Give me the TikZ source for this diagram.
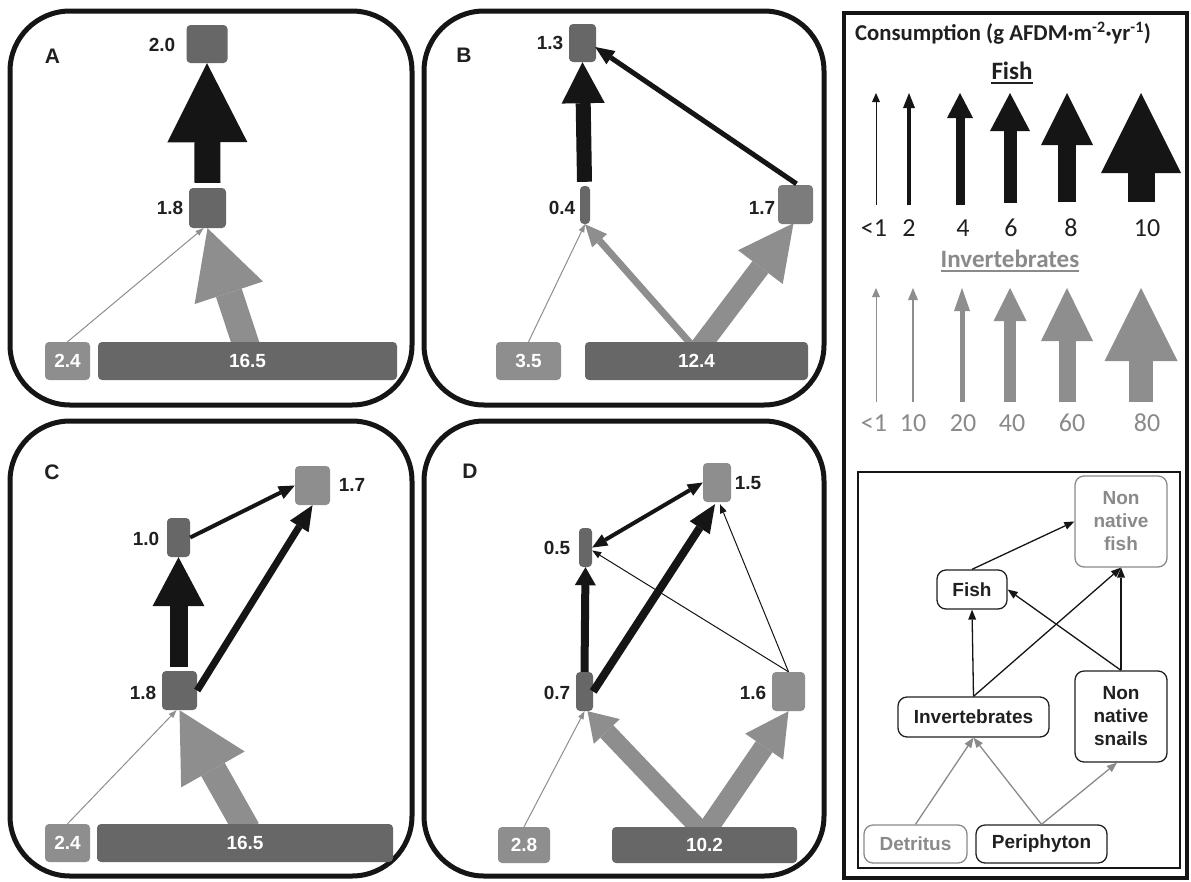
\documentclass[tikz,border=0pt]{standalone}
\usepackage{fontspec}
\setmainfont{Liberation Sans}
\newfontfamily\calfont{Carlito}
\usetikzlibrary{arrows.meta,calc}
\pgfdeclarelayer{bg}
\pgfsetlayers{bg,main}
\definecolor{colDk}{HTML}{676767}
\definecolor{colMd}{HTML}{7C7C7C}
\definecolor{colLt}{HTML}{8E8E8E}
\definecolor{colBk}{HTML}{151515}
\definecolor{colTx}{HTML}{202020}
\definecolor{colLg}{HTML}{8A8A8A}
\begin{document}
\begin{tikzpicture}[x=1pt,y=-1pt,
  frame/.style={draw=colBk,line width=5pt,rounded corners=60pt},
  dkbox/.style={fill=colDk,rounded corners=4pt,inner sep=0pt,text=white,font=\fontsize{19}{22}\selectfont\bfseries},
  mdbox/.style={dkbox,fill=colMd},
  ltbox/.style={fill=colLt,rounded corners=4pt,inner sep=0pt,text=white,font=\fontsize{19}{22}\selectfont\bfseries},
  num/.style={font=\fontsize{19}{22}\selectfont\bfseries,text=colTx,inner sep=0pt},
  plab/.style={font=\fontsize{21}{24}\selectfont\bfseries,text=colTx,inner sep=0pt},
  fa/.style n args={3}{draw=colBk,line width=#1,-{Triangle[width=#2,length=#3,line width=0pt]}},
  fb/.style n args={3}{draw=colBk,line width=#1,{Triangle[width=#2,length=#3,line width=0pt]}-{Triangle[width=#2,length=#3,line width=0pt]}},
  ia/.style n args={3}{draw=colLt,line width=#1,-{Triangle[width=#2,length=#3,line width=0pt]}},
  calnum/.style={font=\fontsize{26}{30}\selectfont\calfont,text=colTx,inner sep=0pt},
  calinv/.style={font=\fontsize{26}{30}\selectfont\calfont,text=colLg,inner sep=0pt},
  lbox/.style={draw=colTx,line width=1.3pt,rounded corners=9pt,fill=white,inner sep=0pt,align=center,text=colTx,font=\fontsize{19}{23}\selectfont\bfseries},
  lboxg/.style={lbox,draw=colLg,text=colLg},
  lka/.style={draw=colBk,line width=1.3pt,-{Triangle[width=8pt,length=10pt,line width=0pt]}},
  lkg/.style={draw=colLg,line width=1.3pt,-{Triangle[width=8pt,length=10pt,line width=0pt]}}
]
\useasboundingbox (0,0) rectangle (1191,881);
\begin{pgfonlayer}{bg}
\fill[white] (0,0) rectangle (1191,881);
\end{pgfonlayer}

% ---------- frames
\draw[frame] (10,11) rectangle (412,405);
\draw[frame] (424,11) rectangle (824,405);
\draw[frame] (10,421) rectangle (412,876);
\draw[frame] (424,421) rectangle (824,876);
\draw[draw=colBk,line width=4pt] (844,13) rectangle (1187,878);

% ---------- Panel A
\node[plab] (LA) at (52.5,56) {A};
\node[dkbox,minimum width=41pt,minimum height=38pt] (A20) at (207,44) {};
\node[dkbox,minimum width=37pt,minimum height=40pt] (A18) at (207.5,208) {};
\node[ltbox,minimum width=45pt,minimum height=38pt] (A24) at (67.5,361) {2.4};
\node[dkbox,minimum width=299pt,minimum height=38pt] (A165) at (247.5,361) {16.5};
\node[num] (lA20) at (162,45) {2.0};
\node[num] (lA18) at (170,208) {1.8};
\draw[fa={26pt}{80pt}{79pt}] ($(A18.north)+(0,-5)$) -- (A20.south);
\begin{pgfonlayer}{bg}
\draw[ia={27pt}{72pt}{68pt}] ($(A165.north)+(-0.5,6)$) -- (A18.south);
\draw[ia={1pt}{6pt}{8pt}] (A24.north) -- ($(A18.south)+(-4,0)$);
\end{pgfonlayer}

% ---------- Panel B
\node[plab] (LB) at (464,55) {B};
\node[dkbox,minimum width=27pt,minimum height=38pt] (B13) at (582.5,43) {};
\node[dkbox,minimum width=10pt,minimum height=38pt] (B04) at (585,205) {};
\node[mdbox,minimum width=35pt,minimum height=39pt] (B17) at (795.5,204.5) {};
\node[ltbox,minimum width=65pt,minimum height=38pt] (B35) at (528.5,361) {3.5};
\node[dkbox,minimum width=223pt,minimum height=38pt] (B124) at (696.5,361) {12.4};
\node[num] (lB13) at (550,43) {1.3};
\node[num] (lB04) at (562,208) {0.4};
\node[num] (lB17) at (762,208) {1.7};
\draw[fa={15pt}{43pt}{41pt}] ($(B04.north)+(-0.5,-4)$) -- (B13.south);
\draw[fa={5pt}{16pt}{19pt}] ($(B17.north)+(1,-1)$) -- ($(B13.east)+(-1,4)$);
\begin{pgfonlayer}{bg}
\draw[ia={1pt}{6pt}{8pt}] (B35.north) -- (B04.south);
\draw[ia={7pt}{20pt}{22pt}] ($(B124.north)+(-4,4)$) -- (B04.south);
\draw[ia={20pt}{56pt}{55pt}] ($(B124.north)+(3,6)$) -- ($(B17.south)+(-2,-1)$);
\end{pgfonlayer}

% ---------- Panel C
\node[plab] (LC) at (52,472) {C};
\node[ltbox,minimum width=35pt,minimum height=39pt] (C17) at (312.5,485.5) {};
\node[dkbox,minimum width=23pt,minimum height=39pt] (C10) at (178.5,537.5) {};
\node[dkbox,minimum width=35pt,minimum height=39pt] (C18) at (179.5,690.5) {};
\node[ltbox,minimum width=45pt,minimum height=38pt] (C24) at (67.5,843) {2.4};
\node[dkbox,minimum width=296pt,minimum height=38pt] (C165) at (245,843) {16.5};
\node[num] (lC17) at (352,485) {1.7};
\node[num] (lC10) at (146,539) {1.0};
\node[num] (lC18) at (143,693) {1.8};
\draw[fa={18pt}{52pt}{49pt}] ($(C18.north)+(-1,-4)$) -- (C10.south);
\draw[fa={4pt}{14pt}{16pt}] (C10.east) -- (C17.west);
\draw[fa={7pt}{22pt}{25pt}] (C18.east) -- (C17.south);
\begin{pgfonlayer}{bg}
\draw[ia={1pt}{6pt}{8pt}] (C24.north) -- ($(C18.south)+(-3,0)$);
\draw[ia={27pt}{73pt}{68pt}] ($(C165.north)+(2,6)$) -- (C18.south);
\end{pgfonlayer}

% ---------- Panel D
\node[plab] (LD) at (470,471) {D};
\node[ltbox,minimum width=28pt,minimum height=39pt] (D15) at (717,482.5) {};
\node[dkbox,minimum width=13pt,minimum height=39pt] (D05) at (585.5,547.5) {};
\node[dkbox,minimum width=17pt,minimum height=39pt] (D07) at (584.5,691.5) {};
\node[ltbox,minimum width=33pt,minimum height=39pt] (D16) at (788.5,691.5) {};
\node[ltbox,minimum width=52pt,minimum height=36pt] (D28) at (524,845) {2.8};
\node[dkbox,minimum width=185pt,minimum height=36pt] (D102) at (704.5,845) {10.2};
\node[num] (lD15) at (748,483) {1.5};
\node[num] (lD05) at (557,548) {0.5};
\node[num] (lD07) at (557,693) {0.7};
\node[num] (lD16) at (753,693) {1.6};
\draw[fa={8pt}{21pt}{18pt}] (D07.north) -- (D05.south);
\draw[fb={4pt}{13pt}{15pt}] (D05.east) -- (D15.west);
\draw[fa={8pt}{24pt}{28pt}] (D07.east) -- ($(D15.south)+(-2,2)$);
\draw[fa={1pt}{7pt}{9pt}] (D16.north) -- ($(D05.east)+(0,3)$);
\draw[fa={1pt}{7pt}{9pt}] (D16.north) -- ($(D15.south)+(3,2)$);
\begin{pgfonlayer}{bg}
\draw[ia={1pt}{6pt}{8pt}] (D28.north) -- (D07.south);
\draw[ia={18pt}{36pt}{28pt}] ($(D102.north)+(-3,4)$) -- ($(D07.south)+(3,0)$);
\draw[ia={20pt}{46pt}{43pt}] ($(D102.north)+(2,4)$) -- (D16.south);
\end{pgfonlayer}

% ---------- Legend top
\node[anchor=west,inner sep=0pt,font=\fontsize{22.7}{26}\selectfont\calfont\bfseries,text=colTx] (ttl) at (855,33) {Consumption (g AFDM·m\textsuperscript{-2}·yr\textsuperscript{-1})};
\node[inner sep=0pt,font=\fontsize{25}{30}\selectfont\calfont\bfseries,text=colTx,anchor=base] (hFish) at (1012,79) {Fish};
\draw[colTx,line width=1.6pt] ($(hFish.base west)+(0,4)$) -- ($(hFish.base east)+(0,4)$);
\node[inner sep=0pt,font=\fontsize{25}{30}\selectfont\calfont\bfseries,text=colLg,anchor=base] (hInv) at (1010,267) {Invertebrates};
\draw[colLg,line width=1.6pt] ($(hInv.base west)+(0,4)$) -- ($(hInv.base east)+(0,4)$);

\foreach \i/\x/\w/\hw/\hl/\yb in {1/876/1/8/9/205,2/909/4/12/15/205,3/960/9/26/25/205,4/1010/13/40/38/203,5/1067/18/52/52/202,6/1141/27/80/80/202}{
  \coordinate (fb\i) at (\x,\yb);
  \coordinate (ft\i) at (\x,93);
  \draw[fa={\w pt}{\hw pt}{\hl pt}] (fb\i) -- (ft\i);
}
\foreach \i/\x/\w/\hw/\hl in {1/876/1/8/9,2/913/2.5/10/12,3/962/5/16/23,4/1010/12/33/33,5/1067/17/52/53,6/1141/24/73/73}{
  \coordinate (ib\i) at (\x,402);
  \coordinate (it\i) at (\x,288);
  \draw[ia={\w pt}{\hw pt}{\hl pt}] (ib\i) -- (it\i);
}
\node[calnum] (fn1) at (874,228) {<1};
\node[calnum] (fn2) at (909,228) {2};
\node[calnum] (fn3) at (963,228) {4};
\node[calnum] (fn4) at (1011,228) {6};
\node[calnum] (fn5) at (1071,228) {8};
\node[calnum] (fn6) at (1147,228) {10};
\node[calinv] (in1) at (874,423) {<1};
\node[calinv] (in2) at (913,423) {10};
\node[calinv] (in3) at (963,423) {20};
\node[calinv] (in4) at (1012,423) {40};
\node[calinv] (in5) at (1072,423) {60};
\node[calinv] (in6) at (1147,423) {80};

% ---------- Legend bottom
\draw[colBk,line width=1.5pt] (858,472) rectangle (1180,868);
\node[lboxg,minimum width=92pt,minimum height=91pt] (nnf) at (1121,521.5) {Non\\native\\fish};
\node[lbox,minimum width=70pt,minimum height=39pt] (fsh) at (972,589.5) {Fish};
\node[lbox,minimum width=151pt,minimum height=40pt] (inv) at (973.5,717) {Invertebrates};
\node[lbox,minimum width=92pt,minimum height=91pt] (nns) at (1121,716.5) {Non\\native\\snails};
\node[lboxg,minimum width=103pt,minimum height=38pt] (det) at (915.5,844) {Detritus};
\node[lbox,minimum width=131pt,minimum height=38pt] (per) at (1041.5,844) {Periphyton};
\draw[lka] (fsh.north) -- (nnf.west);
\draw[lka] (inv.north) -- (fsh.south);
\draw[lka] (inv.north) -- (nnf.south);
\draw[lka] (nns.north) -- (fsh.east);
\draw[lka] (nns.north) -- (nnf.south);
\draw[lkg] (det.north) -- (inv.south);
\draw[lkg] (per.north) -- (inv.south);
\draw[lkg] (per.north) -- ($(nns.south)+(-4,0)$);
\end{tikzpicture}
\end{document}
